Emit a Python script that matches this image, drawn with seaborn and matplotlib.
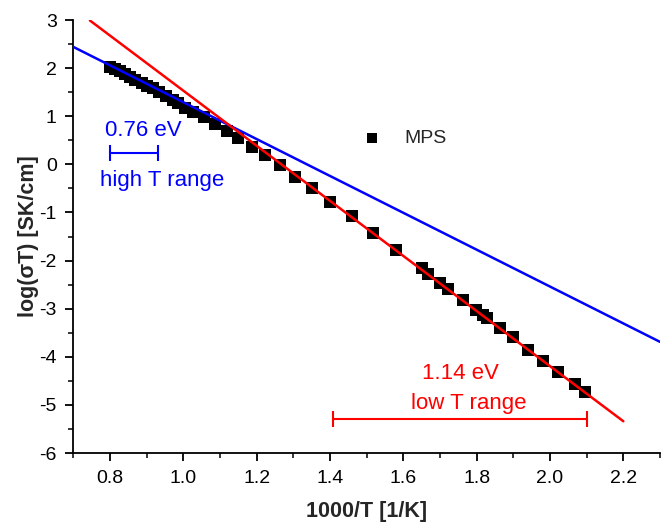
import matplotlib
matplotlib.use("Agg")
import matplotlib.pyplot as plt
import seaborn as sns
import pandas as pd
from matplotlib.ticker import MultipleLocator

# ---- data ----
inv_T = [0.800, 0.814, 0.827, 0.841, 0.854, 0.868, 0.886, 0.902, 0.918, 0.934,
         0.953, 0.973, 0.986, 1.005, 1.027, 1.055, 1.086, 1.118, 1.150, 1.187,
         1.223, 1.264, 1.305, 1.350, 1.400, 1.460, 1.517, 1.580, 1.651, 1.667,
         1.700, 1.722, 1.763, 1.799, 1.818, 1.829, 1.864, 1.900, 1.941, 1.982,
         2.022, 2.069, 2.096]
log_sigT = [2.03, 1.98, 1.93, 1.88, 1.82, 1.75, 1.70, 1.63, 1.58, 1.51,
            1.42, 1.34, 1.27, 1.18, 1.09, 0.99, 0.84, 0.69, 0.54, 0.37,
            0.19, -0.01, -0.26, -0.50, -0.78, -1.08, -1.43, -1.78, -2.16, -2.28,
            -2.47, -2.59, -2.82, -3.03, -3.13, -3.20, -3.40, -3.59, -3.86, -4.09,
            -4.32, -4.57, -4.73]

high_fit_x = [0.70, 2.30]
high_fit_y = [2.44, -3.69]
low_fit_x = [0.745, 2.20]
low_fit_y = [2.99, -5.34]

high_bar_x = [0.80, 0.93]
high_bar_y = 0.235
low_bar_x = [1.408, 2.101]
low_bar_y = -5.30

x_ticks = [0.8, 1.0, 1.2, 1.4, 1.6, 1.8, 2.0, 2.2]
y_ticks = [-6, -5, -4, -3, -2, -1, 0, 1, 2, 3]

df = pd.DataFrame({"x": inv_T, "y": log_sigT, "series": "MPS"})
high_df = pd.DataFrame({"x": high_fit_x, "y": high_fit_y})
low_df = pd.DataFrame({"x": low_fit_x, "y": low_fit_y})

sns.set_theme(style="ticks")
plt.rcParams["font.family"] = ["Liberation Sans", "DejaVu Sans"]

fig = plt.figure(figsize=(6.61, 5.25), dpi=100)
ax = fig.add_axes([73.4 / 661, 1 - 453 / 525, (660 - 73.4) / 661, (453 - 20) / 525])

sns.lineplot(data=high_df, x="x", y="y", color="#0000ff", linewidth=1.8, ax=ax,
             legend=False, zorder=3)
sns.lineplot(data=low_df, x="x", y="y", color="#ff0000", linewidth=1.8, ax=ax,
             legend=False, zorder=3)
sns.scatterplot(data=df, x="x", y="y", marker="s", color="black", s=65,
                edgecolor="black", linewidth=0, ax=ax, zorder=2, label="MPS")

# range bars
for bx, by, col in [(high_bar_x, high_bar_y, "#0000ff"), (low_bar_x, low_bar_y, "#ff0000")]:
    c = (bx[0] + bx[1]) / 2
    h = (bx[1] - bx[0]) / 2
    ax.errorbar([c], [by], xerr=[h], fmt="none", ecolor=col, elinewidth=1.5,
                capsize=6, capthick=1.5)

ax.text(0.89, 0.71, "0.76 eV", color="#0000ff", fontsize=16, ha="center", va="center")
ax.text(0.941, -0.33, "high T range", color="#0000ff", fontsize=16, ha="center", va="center")
ax.text(1.755, -4.34, "1.14 eV", color="#ff0000", fontsize=16, ha="center", va="center")
ax.text(1.777, -4.98, "low T range", color="#ff0000", fontsize=16, ha="center", va="center")

ax.set_xlim(0.7, 2.3)
ax.set_ylim(-6, 3)
ax.set_xticks(x_ticks)
ax.set_xticklabels([f"{v:.1f}" for v in x_ticks])
ax.set_yticks(y_ticks)
ax.set_yticklabels([str(v) for v in y_ticks])
ax.xaxis.set_minor_locator(MultipleLocator(0.1))
ax.yaxis.set_minor_locator(MultipleLocator(0.5))
ax.tick_params(which="major", direction="out", length=6, width=1.3, labelsize=14,
               colors="black", pad=6)
ax.tick_params(which="minor", direction="out", length=3.5, width=1.3)

for sp in ["top", "right"]:
    ax.spines[sp].set_visible(False)
for sp in ["left", "bottom"]:
    ax.spines[sp].set_linewidth(1.3)
    ax.spines[sp].set_color("black")

ax.set_xlabel("1000/T [1/K]", fontsize=15.5, fontweight="bold", labelpad=10)
ax.set_ylabel("log(σT) [SK/cm]", fontsize=15.5, fontweight="bold", labelpad=0)

leg = ax.legend(loc="center", bbox_to_anchor=(0.564, 0.727), frameon=False,
                fontsize=14, handlelength=1.0, handletextpad=1.15, markerscale=0.9)

fig.savefig("out.png", dpi=100)
